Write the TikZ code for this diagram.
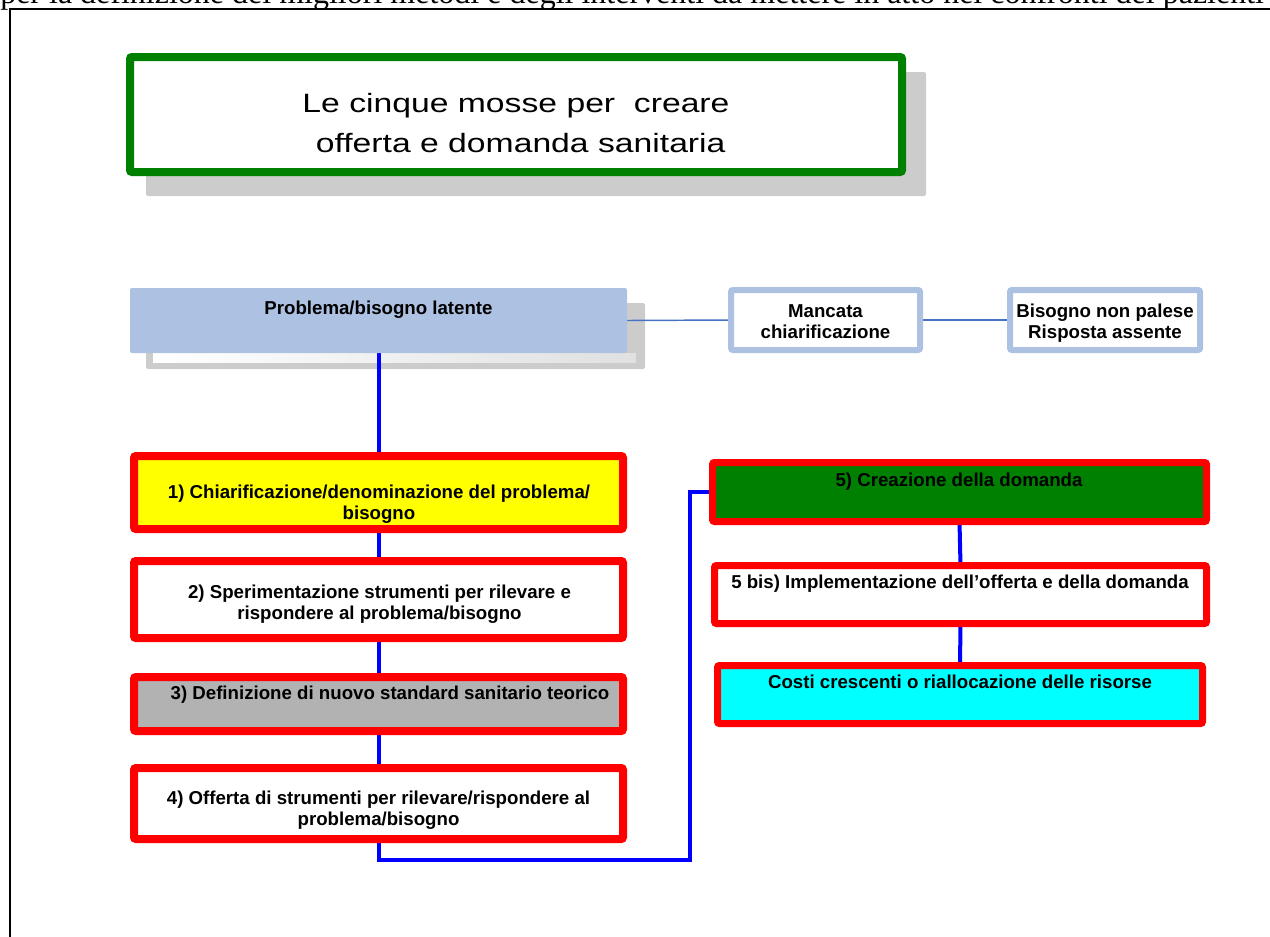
\documentclass[tikz,border=0pt]{standalone}
\usepackage{fontspec}
\setmainfont{Liberation Sans}
\newfontfamily\serifT{Liberation Serif}
\newfontfamily\titlefont[FakeStretch=1.27]{Liberation Sans}
\usetikzlibrary{calc}
\pgfdeclarelayer{shadows}
\pgfdeclarelayer{conn}
\pgfsetlayers{shadows,conn,main}
\definecolor{tgreen}{RGB}{0,128,0}
\definecolor{shgray}{RGB}{204,204,204}
\definecolor{shgrad}{RGB}{224,224,224}
\definecolor{lblue}{RGB}{173,193,226}
\definecolor{boxgray}{RGB}{178,178,178}
\definecolor{thinblue}{RGB}{68,114,196}
\definecolor{pyellow}{RGB}{255,255,0}
\definecolor{pcyan}{RGB}{0,255,255}
\definecolor{pred}{RGB}{255,0,0}
\definecolor{pblue}{RGB}{0,0,255}
\newcommand\twoline[2]{\begin{tabular}[t]{@{}c@{}}#1\\#2\end{tabular}}
\tikzset{
  box/.style 2 args={minimum width=#1*0.75pt, minimum height=#2*0.75pt, inner sep=0pt, outer sep=0pt, rounded corners=1.5pt},
  redbox/.style={draw=pred, line width=6pt},
  redboxR/.style={draw=pred, line width=5.25pt},
  blbox/.style={draw=lblue, line width=4.5pt, fill=white},
  lbl/.style={font=\bfseries\fontsize{14}{15.75}\selectfont, inner sep=0pt, anchor=base},
  link/.style={draw=pblue, line width=3pt},
  thinlink/.style={draw=thinblue, line width=1.1pt}
}
\begin{document}
\begin{tikzpicture}[x=0.75pt,y=-0.75pt]
\useasboundingbox (0,0) rectangle (1270,936);

% clipped line of text at the top
\node[anchor=base west, inner sep=0pt, font=\serifT\fontsize{24}{28}\selectfont] (toptext) at (0,3)
  {per la definizione dei migliori metodi e degli interventi da mettere in atto nei confronti dei pazienti};
% page frame
\draw[line width=1.5pt] (10.2,945) -- (10.2,9.2) -- (1280,9.2);

\begin{pgfonlayer}{shadows}
  \fill[shgray, rounded corners=1.5pt] (146,72) rectangle (926,196);
  \fill[shgray, rounded corners=1.5pt] (146,303) rectangle (645,369);
  \shade[left color=white, right color=shgrad] (153,353) rectangle (636,362);
\end{pgfonlayer}

% title
\node[box={772}{115}, draw=tgreen, line width=6pt, fill=white] (title) at (516,114.5) {};
\node[inner sep=0pt, anchor=base, font=\titlefont\fontsize{19.9}{30}\selectfont] (titletext) at (516,112)
  {\twoline{Le cinque mosse per\ \ creare}{\ offerta e domanda sanitaria}};

% top row
\node[box={497}{65}, fill=lblue] (prob) at (378.5,320.5) {};
\node[lbl] (probt) at (378.5,314) {Problema/bisogno latente};
\node[box={189}{60}, blbox] (manc) at (825.5,320) {};
\node[lbl] (manct) at (825.5,317) {\twoline{Mancata}{chiarificazione}};
\node[box={190}{60}, blbox] (bis) at (1105,320) {};
\node[lbl] (bist) at (1105,317) {\twoline{Bisogno non palese}{Risposta assente}};

% left column
\node[box={489}{73}, redbox, fill=pyellow] (b1) at (378.5,492.5) {};
\node[lbl] (b1t) at (379,498) {\twoline{1) Chiarificazione/denominazione del problema/}{bisogno}};
\node[box={489}{77}, redbox, fill=white] (b2) at (378.5,599.5) {};
\node[lbl] (b2t) at (379.5,598) {\twoline{2) Sperimentazione strumenti per rilevare e}{rispondere al problema/bisogno}};
\node[box={489}{54}, redbox, fill=boxgray] (b3) at (378.5,704) {};
\node[lbl] (b3t) at (390,699) {3) Definizione di nuovo standard sanitario teorico};
\node[box={489}{71}, redbox, fill=white] (b4) at (378.5,803.5) {};
\node[lbl] (b4t) at (378.5,804) {\twoline{4) Offerta di strumenti per rilevare/rispondere al}{problema/bisogno}};

% right column
\node[box={494}{59}, redboxR, fill=tgreen] (b5) at (959.5,492) {};
\node[lbl] (b5t) at (959,486) {5) Creazione della domanda};
\node[box={492}{58}, redboxR, fill=white] (b5b) at (960.5,594.5) {};
\node[lbl] (b5bt) at (960,588) {5 bis) Implementazione dell’offerta e della domanda};
\node[box={485}{58}, redboxR, fill=pcyan] (b6) at (960,694.5) {};
\node[lbl] (b6t) at (960,688) {Costi crescenti o riallocazione delle risorse};

\coordinate (turn) at (690,860);
\begin{pgfonlayer}{conn}
  \draw[link] (prob.south) -- (b1.north);
  \draw[link] (b1.south) -- (b2.north);
  \draw[link] (b2.south) -- (b3.north);
  \draw[link] (b3.south) -- (b4.north);
  \draw[link] (b4.south) |- (turn) |- (b5.west);
  \draw[link] (b5.south) -- (b5b.north);
  \draw[link] (b5b.south) -- (b6.north);
  \draw[thinlink] (prob.east) -- (manc.west);
  \draw[thinlink] (manc.east) -- (bis.west);
\end{pgfonlayer}
\end{tikzpicture}
\end{document}
